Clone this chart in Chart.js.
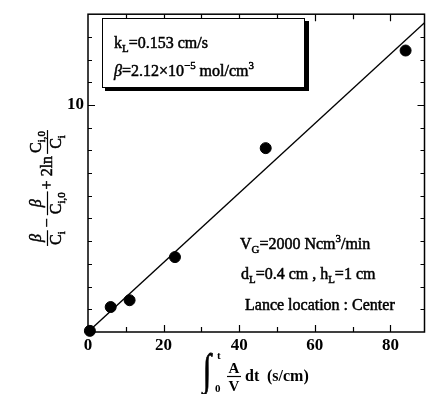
<!DOCTYPE html>
<html>
<head>
<meta charset="utf-8">
<script src="https://cdn.jsdelivr.net/npm/chart.js@4"></script>
<style>
  html, body { margin: 0; padding: 0; background: #fff; }
  canvas { display: block; }
</style>
</head>
<body>
<canvas id="chart" width="431" height="394"></canvas>
<script>
// measured points
const pointX = [0.5, 6, 11, 23, 47, 84]
const pointY = [0.05, 1.1, 1.4, 3.3, 8.1, 12.4]
// fitted line (slope = kL)
const fitX = [0, 89]
const fitY = [0, 13.62]
// tick labels
const xTickLabels = [0, 20, 40, 60, 80]
const yTickLabels = [10]

const SERIF = '"Liberation Serif", "Times New Roman", serif'

// draws text with sub/superscripts, returns end x
// a thin stroke thickens the glyphs a bit, like the scanned original
function rich(ctx, parts, x, y, size, draw = true) {
    for (const p of parts) {
        const t = p[0], kind = p[1] || 'n', style = p[2] || ''
        let s = size, dy = 0
        if (kind === 'sub') { s = size * 0.68; dy = size * 0.25 }
        if (kind === 'sup') { s = size * 0.68; dy = -size * 0.42 }
        ctx.font = style + ' ' + s + 'px ' + SERIF
        if (draw) {
            ctx.fillText(t, x, y + dy)
            if (!style.includes('bold')) {
                ctx.lineWidth = 0.5
                ctx.strokeText(t, x, y + dy)
            }
        }
        x += ctx.measureText(t).width
    }
    return x
}

function frac(ctx, num, den, x, size, draw) {
    const wn = rich(ctx, num, 0, 0, size, false)
    const wd = rich(ctx, den, 0, 0, size, false)
    const w = Math.max(wn, wd) + 2
    if (draw) {
        rich(ctx, num, x + (w - wn) / 2, -6, size)
        rich(ctx, den, x + (w - wd) / 2, 14, size)
        ctx.lineWidth = 1.2
        ctx.beginPath()
        ctx.moveTo(x, 0.5)
        ctx.lineTo(x + w, 0.5)
        ctx.stroke()
    }
    return x + w
}

const framePlugin = {
    id: 'frame',
    afterDatasetsDraw(chart) {
        const ctx = chart.ctx
        const a = chart.chartArea
        const xs = chart.scales.x, ys = chart.scales.y
        ctx.save()
        ctx.strokeStyle = '#000'
        ctx.fillStyle = '#000'

        // frame
        ctx.lineWidth = 1.5
        ctx.strokeRect(a.left, a.top, a.right - a.left, a.bottom - a.top)

        // inward ticks, all four sides
        ctx.lineWidth = 1.2
        ctx.beginPath()
        for (let v = 10; v < xs.max; v += 10) {
            const px = Math.round(xs.getPixelForValue(v)) + 0.5
            const len = v % 20 === 0 ? 7 : 5
            ctx.moveTo(px, a.bottom); ctx.lineTo(px, a.bottom - len)
            ctx.moveTo(px, a.top); ctx.lineTo(px, a.top + len)
        }
        for (let v = 1; v < ys.max; v += 1) {
            const py = Math.round(ys.getPixelForValue(v)) + 0.5
            const len = v % 10 === 0 ? 7 : 4
            ctx.moveTo(a.left, py); ctx.lineTo(a.left + len, py)
            ctx.moveTo(a.right, py); ctx.lineTo(a.right - len, py)
        }
        ctx.stroke()

        // parameter box with shadow
        ctx.fillRect(105, 21, 204, 70)
        ctx.fillStyle = '#fff'
        ctx.fillRect(102, 18, 203, 70)
        ctx.lineWidth = 1
        ctx.strokeRect(102.5, 18.5, 202, 69)
        ctx.fillStyle = '#000'
        ctx.textBaseline = 'alphabetic'
        ctx.textAlign = 'left'
        rich(ctx, [['k'], ['L', 'sub'], ['=0.153 cm/s']], 114, 48, 16)
        rich(ctx, [['β', 'n', 'italic'], ['=2.12×10'], ['−5', 'sup'], [' mol/cm'], ['3', 'sup']], 114, 76, 16)

        // operating conditions
        rich(ctx, [['V'], ['G', 'sub'], ['=2000 Ncm'], ['3', 'sup'], ['/min']], 240, 249, 16)
        rich(ctx, [['d'], ['L', 'sub'], ['=0.4 cm , h'], ['L', 'sub'], ['=1 cm']], 241, 279, 16)
        rich(ctx, [['Lance location : Center']], 245, 310, 16)

        // x axis title
        ctx.save()
        ctx.translate(203, 384)
        ctx.scale(1, 1.45)
        ctx.font = '30px ' + SERIF
        ctx.fillText('∫', 0, 0)
        ctx.lineWidth = 0.6
        ctx.strokeText('∫', 0, 0)
        ctx.restore()
        rich(ctx, [['0', 'n', 'bold']], 215, 392, 11)
        rich(ctx, [['t', 'n', 'bold']], 217, 359, 11)
        ctx.textAlign = 'center'
        ctx.font = 'bold 15px ' + SERIF
        ctx.fillText('A', 234, 373)
        ctx.fillText('V', 234, 391)
        ctx.lineWidth = 1.2
        ctx.beginPath()
        ctx.moveTo(227, 376.5); ctx.lineTo(241, 376.5)
        ctx.stroke()
        ctx.textAlign = 'left'
        rich(ctx, [['dt', 'n', 'bold']], 245, 381, 16)
        rich(ctx, [['(s/cm)', 'n', 'bold']], 267, 381, 16)

        // y axis title (rotated)
        ctx.translate(47, 188)
        ctx.rotate(-Math.PI / 2)
        const S = 16
        const layout = (draw, x0) => {
            let x = x0
            x = frac(ctx, [['β', 'n', 'italic']], [['C'], ['i', 'sub']], x, S, draw)
            x += 3
            if (draw) rich(ctx, [['−']], x, 5, S)
            x = rich(ctx, [['−']], x, 5, S, false) + 3
            x = frac(ctx, [['β', 'n', 'italic']], [['C'], ['i,0', 'sub']], x, S, draw)
            x += 2
            if (draw) rich(ctx, [['+ 2ln']], x, 5, S)
            x = rich(ctx, [['+ 2ln']], x, 5, S, false) + 2
            x = frac(ctx, [['C'], ['i,0', 'sub']], [['C'], ['i', 'sub']], x, S, draw)
            return x - x0
        }
        const total = layout(false, 0)
        layout(true, -total / 2)

        ctx.restore()
    }
}

const ctx = document.getElementById('chart')

new Chart(ctx, {
    type: 'scatter',
    data: {
        datasets: [{
            label: 'measured',
            data: pointX.map((x, i) => ({ x: x, y: pointY[i] })),
            backgroundColor: '#000',
            borderColor: '#000',
            pointRadius: 5.5,
            pointHoverRadius: 5.5,
            clip: false
        }, {
            label: 'fit',
            type: 'line',
            data: fitX.map((x, i) => ({ x: x, y: fitY[i] })),
            borderColor: '#000',
            borderWidth: 1.3,
            pointRadius: 0,
            fill: false,
            tension: 0
        }]
    },
    options: {
        responsive: false,
        animation: false,
        events: [],
        layout: { padding: { top: 10, right: 2, left: 0, bottom: 0 } },
        plugins: {
            legend: { display: false },
            tooltip: { enabled: false }
        },
        scales: {
            x: {
                type: 'linear',
                min: 0,
                max: 89,
                grid: { display: false, drawTicks: false },
                border: { display: false },
                afterFit: s => { s.height = 62 },
                ticks: {
                    stepSize: 20,
                    padding: 3,
                    color: '#000',
                    font: { family: SERIF, size: 17, weight: 'bold' },
                    maxRotation: 0,
                    autoSkip: false,
                    callback: v => xTickLabels.includes(v) ? String(v) : ''
                }
            },
            y: {
                type: 'linear',
                min: 0,
                max: 14,
                grid: { display: false, drawTicks: false },
                border: { display: false },
                afterFit: s => { s.width = 88 },
                ticks: {
                    stepSize: 10,
                    padding: 4,
                    color: '#000',
                    font: { family: SERIF, size: 17, weight: 'bold' },
                    autoSkip: false,
                    callback: v => yTickLabels.includes(v) ? String(v) : ''
                }
            }
        }
    },
    plugins: [framePlugin]
})
</script>
</body>
</html>
